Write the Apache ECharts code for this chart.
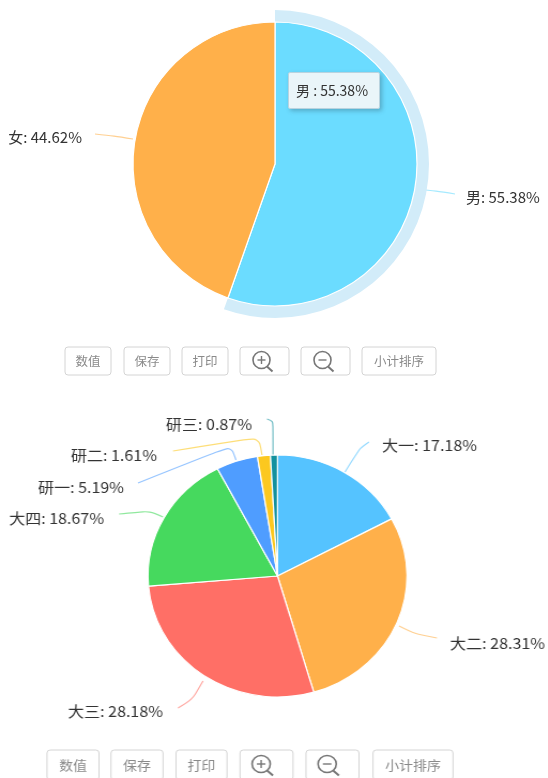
<!DOCTYPE html>
<html><head><meta charset="utf-8">
<style>
html,body{margin:0;padding:0;background:#fff;width:548px;height:778px;overflow:hidden}
#a,#b{position:absolute;left:0}
#a{top:0;width:548px;height:390px}
#b{top:390px;height:388px;transform-origin:0 0}
</style>
<script src="https://cdn.jsdelivr.net/npm/echarts@6/dist/echarts.min.js"></script>
</head><body><div id="a"></div><div id="b"></div>
<script>
// Data
const genderNames = ['男','女'];
const genderValues = [55.38,44.62];
const gradeNames = ['大一','大二','大三','大四','研一','研二','研三'];
const gradeValues = [17.18,28.31,28.18,18.67,5.19,1.61,0.87];
const buttonLabels = ['数值','保存','打印','','','小计排序'];

// Styling and layout, separate from the data
const genderColors = ['#6bdcff','#ffb04a'];
const gradeColors = ['#55c3ff','#ffb04a','#ff6f66','#46d95e','#4f9dff','#fcc81f','#14919e'];
const FONT = '"Noto Sans CJK SC","Noto Sans",sans-serif';
const STRETCH = 1.07; // the lower panel is horizontally stretched in the reference
const TEXT = '#333';

const genderGuides = [
  {text:[466,197,'left'], line:[[416,189],[436,191],[455,194]]},
  {text:[82,137,'right'], line:[[133,139],[114,136],[95,134]]}
];
const gradeGuides = [
  {text:[382,445,'left'], line:[[345,472],[360,448],[369,442]]},
  {text:[545,643,'right'],line:[[399,626],[415,634],[437,638]]},
  {text:[163,711,'right'],line:[[203,681],[192,700],[178,708]]},
  {text:[104,518,'right'],line:[[163,517],[150,511],[119,514]]},
  {text:[124,487,'right'],line:[[236,460],[231,446],[138,483]]},
  {text:[157,455,'right'],line:[[262,455],[259,437],[173,451]]},
  {text:[252,424,'right'],line:[[273,455],[273,421],[267,419]]}
];

function layoutFrom(guides, sx, oy){
  return function(p){
    const g = guides[p.dataIndex];
    return {
      x: g.text[0]/sx, y: g.text[1]-oy, align: g.text[2], verticalAlign:'middle',
      labelLinePoints: g.line.map(q=>[q[0]/sx,q[1]-oy])
    };
  };
}

function buttons(spec, top, h, sx, size, iconShift){
  const out = [];
  spec.forEach((b,i)=>{
    const x=b[0]/sx, w=(b[1]-b[0])/sx;
    out.push({type:'rect',silent:true,shape:{x:x,y:top,width:w,height:h,r:3},
      style:{fill:'#fff',stroke:'#d4d4d4',lineWidth:1}});
    if(buttonLabels[i]){
      out.push({type:'text',silent:true,style:{x:x+w/2,y:top+h/2,text:buttonLabels[i],
        align:'center',verticalAlign:'middle',fill:'#8a8a8a',font:size+'px '+FONT}});
    } else {
      const r=8.5, cx=x+w/2+iconShift, cy=top+h/2-1;
      out.push({type:'circle',silent:true,shape:{cx:cx,cy:cy,r:r},style:{fill:'none',stroke:'#777',lineWidth:1.6}});
      out.push({type:'line',silent:true,shape:{x1:cx+5.5,y1:cy+6.5,x2:cx+11,y2:cy+11.5},style:{stroke:'#777',lineWidth:2}});
      out.push({type:'line',silent:true,shape:{x1:cx-4,y1:cy,x2:cx+4,y2:cy},style:{stroke:'#777',lineWidth:1.4}});
      if(i===3) out.push({type:'line',silent:true,shape:{x1:cx,y1:cy-4,x2:cx,y2:cy+4},style:{stroke:'#777',lineWidth:1.4}});
    }
  });
  return out;
}

function pieSeries(names, values, colors, center, r, guides, sx, oy){
  return {
    type:'pie', center:center, radius:[0,r], startAngle:90, clockwise:true,
    animation:false, avoidLabelOverlap:false,
    data:names.map((n,i)=>({name:n,value:values[i],itemStyle:{color:colors[i]},
      labelLine:{lineStyle:{color:colors[i]}}})),
    itemStyle:{borderColor:'#fff',borderWidth:1.2},
    label:{show:true,formatter:'{b}: {c}%',color:TEXT,fontSize:15,fontFamily:FONT},
    labelLine:{show:true,smooth:0.3,lineStyle:{width:1.2,opacity:0.6}},
    labelLayout:layoutFrom(guides,sx,oy),
    emphasis:{disabled:true}
  };
}

// Top chart
const chartA = echarts.init(document.getElementById('a'),null,{renderer:'canvas'});
chartA.setOption({
  animation:false,
  tooltip:{
    trigger:'item', alwaysShowContent:true, transitionDuration:0, showDelay:0,
    position:[288,72], formatter:p=>p.name+' : '+p.value+'%',
    backgroundColor:'rgba(238,246,249,0.97)', borderColor:'#b9d3df', borderWidth:1,
    padding:[9,7], textStyle:{color:TEXT,fontSize:14,fontFamily:FONT},
    extraCssText:'box-shadow:2px 2px 4px rgba(60,110,130,.45);border-radius:2px;width:76px;height:17px;line-height:17px;white-space:nowrap;'
  },
  series:[
    {type:'pie',center:[275,164],radius:[142,154],startAngle:90,animation:false,silent:true,
      tooltip:{show:false},
      label:{show:false},labelLine:{show:false},
      data:genderNames.map((n,i)=>({name:n,value:genderValues[i],
        itemStyle:{color:i===0?'#d2ecf9':'rgba(0,0,0,0)'}}))},
    pieSeries(genderNames,genderValues,genderColors,[275,164],142,genderGuides,1,0)
  ],
  graphic:buttons([[65,111],[124,170],[182,228],[240,289],[301,350],[362,436]],347,28,1,12.5,-3)
});
chartA.dispatchAction({type:'showTip',seriesIndex:1,dataIndex:0});

// Bottom chart
const elB = document.getElementById('b');
elB.style.width = (548/STRETCH)+'px';
elB.style.transform = 'scaleX('+STRETCH+')';
const chartB = echarts.init(elB,null,{renderer:'canvas'});
chartB.setOption({
  animation:false,
  series:[pieSeries(gradeNames,gradeValues,gradeColors,[277.5/STRETCH,186],121,gradeGuides,STRETCH,390)],
  graphic:buttons([[47,99],[111,163],[176,227],[240,293],[306,359],[373,453]],360,30,STRETCH,13,-5)
});
</script></body></html>
